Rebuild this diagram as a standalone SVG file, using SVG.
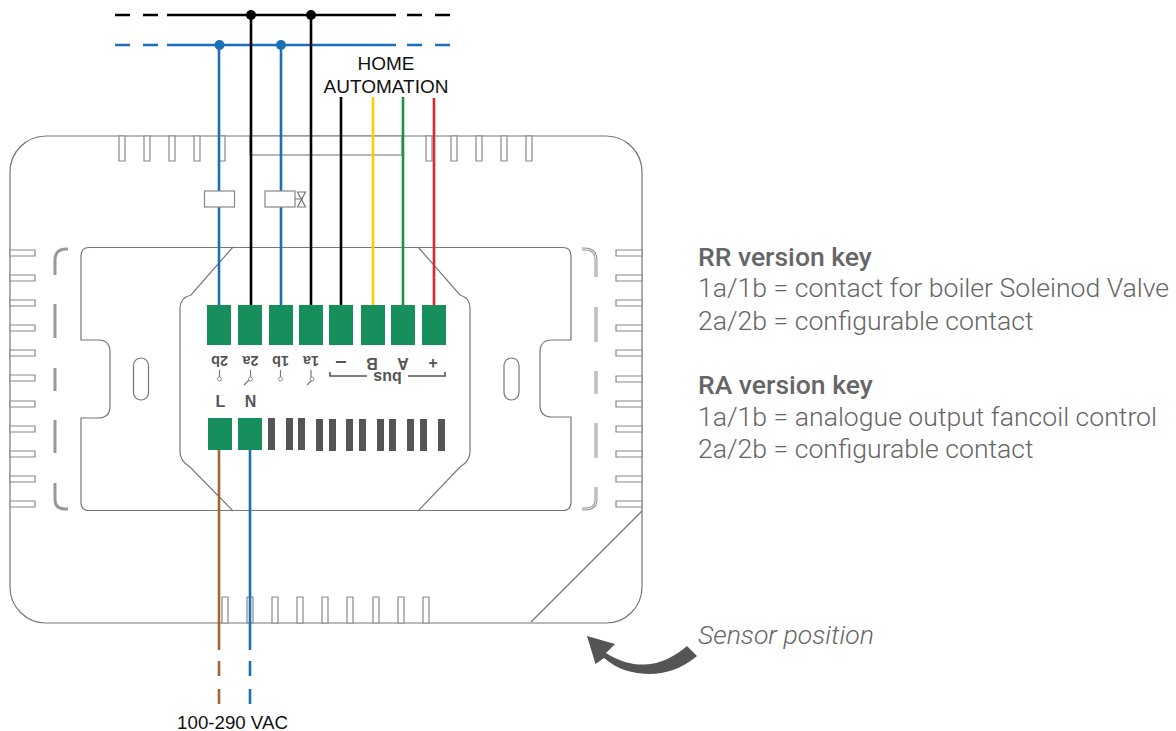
<svg xmlns="http://www.w3.org/2000/svg" width="1176" height="731" viewBox="0 0 1176 731">
<style>
.o{fill:none;stroke:#777;stroke-width:1.2}
.s{fill:#fff;stroke:#888;stroke-width:1.2}
.br{fill:none;stroke:#999;stroke-width:3}
.bw{fill:none;stroke:#fff;stroke-width:.8}
.g{fill:#178f5c}
.d{fill:#555}
.w{fill:none;stroke-width:2.6}
.k{stroke:#000}.b{stroke:#1b6fb7}.y{stroke:#ffcc00}.gr{stroke:#1a9440}.r{stroke:#e3262a}.br2{stroke:#a0663a}
.t{font-family:"Liberation Sans",Arial,sans-serif;font-size:19px;fill:#111}
.l{font-family:"Liberation Sans",Arial,sans-serif;font-size:14.500px;font-weight:bold;fill:#555;text-anchor:middle}
.lb{font-size:16px}
.h{font-family:Roboto,sans-serif;font-size:26.500px;font-weight:500;fill:#666}
.p{font-family:Roboto,sans-serif;font-size:26.600px;font-weight:300;fill:#666}
.ic{fill:#fff;stroke:#777;stroke-width:.8}
</style>
<g id="housing">
<rect class="o" x="10" y="136" width="632" height="487" rx="36" ry="36"/>
<path class="o" d="M642 511L531 622"/>
<rect class="s" x="250" y="136" width="152" height="19"/>
<path class="s" d="M119 136h6v25h-6zM144 136h6v25h-6zM169 136h6v25h-6zM194 136h6v25h-6zM219 136h6v25h-6zM426 136h6v25h-6zM451 136h6v25h-6zM476 136h6v25h-6zM501 136h6v25h-6zM526 136h6v25h-6z"/>
<path class="s" d="M222 597h6v26h-6zM247 597h6v26h-6zM272 597h6v26h-6zM297 597h6v26h-6zM322 597h6v26h-6zM347 597h6v26h-6zM373 597h6v26h-6zM398 597h6v26h-6zM423 597h6v26h-6z"/>
<path class="s" d="M10 250h25v6h-25zM10 275h25v6h-25zM10 300h25v6h-25zM10 325h25v6h-25zM10 350h25v6h-25zM10 375h25v6h-25zM10 401h25v6h-25zM10 426h25v6h-25zM10 451h25v6h-25zM10 476h25v6h-25zM10 501h25v6h-25z"/>
<path class="s" d="M616 250h26v6h-26zM616 275h26v6h-26zM616 300h26v6h-26zM616 325h26v6h-26zM616 350h26v6h-26zM616 376h26v6h-26zM616 401h26v6h-26zM616 426h26v6h-26zM616 451h26v6h-26zM616 476h26v6h-26zM616 501h26v6h-26z"/>
<path class="o" d="M89 247.500H563Q571 247.500 571 256V340H552Q540 340 540 352V405Q540 417 552 417H571V502Q571 510.500 563 510.500H89Q81 510.500 81 502V418H98Q110 418 110 406V352Q110 340 98 340H81V256Q81 247.500 89 247.500Z"/>
<rect class="o" x="133.500" y="358" width="15" height="42" rx="7.500"/>
<rect class="o" x="504" y="358" width="15" height="42" rx="7.500"/>
<path class="o" d="M233 247L191 295Q180 298 180 308V452Q180 461 190 467L233 511M418 247L460 295Q470 298 470 308V452Q470 461 460 467L418 511"/>
<path class="br" id="bl" d="M68 249H66Q55 249 55 260V275M55 304V338M55 368V391M55 420V453M55 483V500Q55 509 66 509H68"/>
<path class="br" d="M582 249H585Q596 249 596 260V277M596 307V342M596 371V394M596 423V458M596 487V500Q596 509 585 509H582"/>
<path class="bw" d="M582 249H585Q596 249 596 260V277M596 307V342M596 371V394M596 423V458M596 487V500Q596 509 585 509H582"/>
</g>
<g id="connectors">
<path class="w k" d="M115 15h15M143 15h15M167 15H396M407 15h15M435 15h15"/>
<path class="w b" d="M115 45h15M143 45h15M167 45H396M407 45h15M435 45h15"/>
<path class="w b" d="M219 45V305M281 45V305"/>
<path class="w k" d="M251 15V305M311 15V305M341 97V305"/>
<path class="w y" d="M373 97V305"/>
<path class="w gr" d="M403 97V305"/>
<path class="w r" d="M434 98V305"/>
<path class="w br2" d="M219 450V650M219 661v15M219 689v15"/>
<path class="w b" d="M250 450V650M250 661v15M250 689v15"/>
<circle cx="251" cy="15" r="5"/><circle cx="311" cy="15" r="5"/>
<circle cx="219.500" cy="45" r="5" fill="#1b6fb7"/><circle cx="281" cy="45" r="5" fill="#1b6fb7"/>
</g>
<g id="relay-2b"><rect class="s" x="204.500" y="191" width="30" height="16"/></g>
<g id="relay-1b"><rect class="s" x="265" y="191" width="30" height="16"/><path class="o" d="M295 199h8M297.500 192h8l-8 15h8z" stroke-width=".9"/></g>
<g id="terminals-top">
<rect class="g" x="207" y="305" width="24" height="40"/><rect class="g" x="238" y="305" width="24" height="40"/><rect class="g" x="269" y="305" width="24" height="40"/><rect class="g" x="299" y="305" width="24" height="40"/><rect class="g" x="329" y="305" width="24" height="40"/><rect class="g" x="361" y="305" width="24" height="40"/><rect class="g" x="391" y="305" width="24" height="40"/><rect class="g" x="422" y="305" width="24" height="40"/>
</g>
<g id="terminals-bottom">
<rect class="g" x="208" y="418" width="24" height="32"/><rect class="g" x="238" y="418" width="24" height="32"/>
<path class="d" d="M268 418h7v32h-7zM286 418h7v32h-7zM298 418h7v32h-7zM316 419h7v32h-7zM329 419h7v32h-7zM346 419h7v32h-7zM359 419h7v32h-7zM377 419h7v32h-7zM389 419h7v32h-7zM407 419h7v32h-7zM420 419h7v32h-7zM438 419h7v32h-7z"/>
</g>
<g id="terminal-labels">
<text class="l" transform="rotate(180 219.500 360.500)" x="219.500" y="365.500">2b</text>
<text class="l" transform="rotate(180 250.500 360.500)" x="250.500" y="365.500">2a</text>
<text class="l" transform="rotate(180 280.500 360.500)" x="280.500" y="365.500">1b</text>
<text class="l" transform="rotate(180 311 360.500)" x="311" y="365.500">1a</text>
<text class="l" transform="rotate(180 341 362)" x="341" y="367" style="font-size:20px">–</text>
<text class="l lb" transform="rotate(180 372 363)" x="372" y="368.500">B</text>
<text class="l lb" transform="rotate(180 403 363)" x="403" y="368.500">A</text>
<text class="l lb" transform="rotate(180 433 363)" x="433" y="368.500">+</text>
<text class="l lb" transform="rotate(180 387.500 377.500)" x="387.500" y="383">bus</text>
<path d="M330 372v4h37M408 376h37v-4" fill="none" stroke="#555" stroke-width="1.600"/>
<text class="l lb" x="220.500" y="407">L</text><text class="l lb" x="250.500" y="407">N</text>
<path class="o" d="M219.500 370v7M250.500 370v7M280.500 370v7M311 370v7M249 380l-5 5M312 380l-5 5" stroke-width=".9"/>
<circle class="ic" cx="219.500" cy="379" r="2"/><circle class="ic" cx="250.500" cy="379" r="2"/><circle class="ic" cx="280.500" cy="379" r="2"/><circle class="ic" cx="312" cy="379" r="2"/>
</g>
<g id="home-automation"><text class="t" x="386" y="70" text-anchor="middle">HOME</text><text class="t" x="386" y="93" text-anchor="middle">AUTOMATION</text></g>
<g id="supply"><text class="t" x="232.500" y="729" text-anchor="middle" style="font-size:18.700px">100-290 VAC</text></g>
<g id="key">
<text class="h" x="698" y="266">RR version key</text>
<text class="p" x="698" y="297">1a/1b = contact for boiler Soleinod Valve</text>
<text class="p" x="698" y="330">2a/2b = configurable contact</text>
<text class="h" x="698" y="394">RA version key</text>
<text class="p" x="698" y="426">1a/1b = analogue output fancoil control</text>
<text class="p" x="698" y="458">2a/2b = configurable contact</text>
</g>
<g id="sensor">
<text class="p" x="698" y="644" font-style="italic">Sensor position</text>
<path class="d" d="M587 636L615 644L606 653C620 662 633 665 645 664.500C660 664 674 657 687 646L697 656C682 669 664 674 650 674C632 674 617 669 604 658L595.500 664Z"/>
</g>
</svg>
